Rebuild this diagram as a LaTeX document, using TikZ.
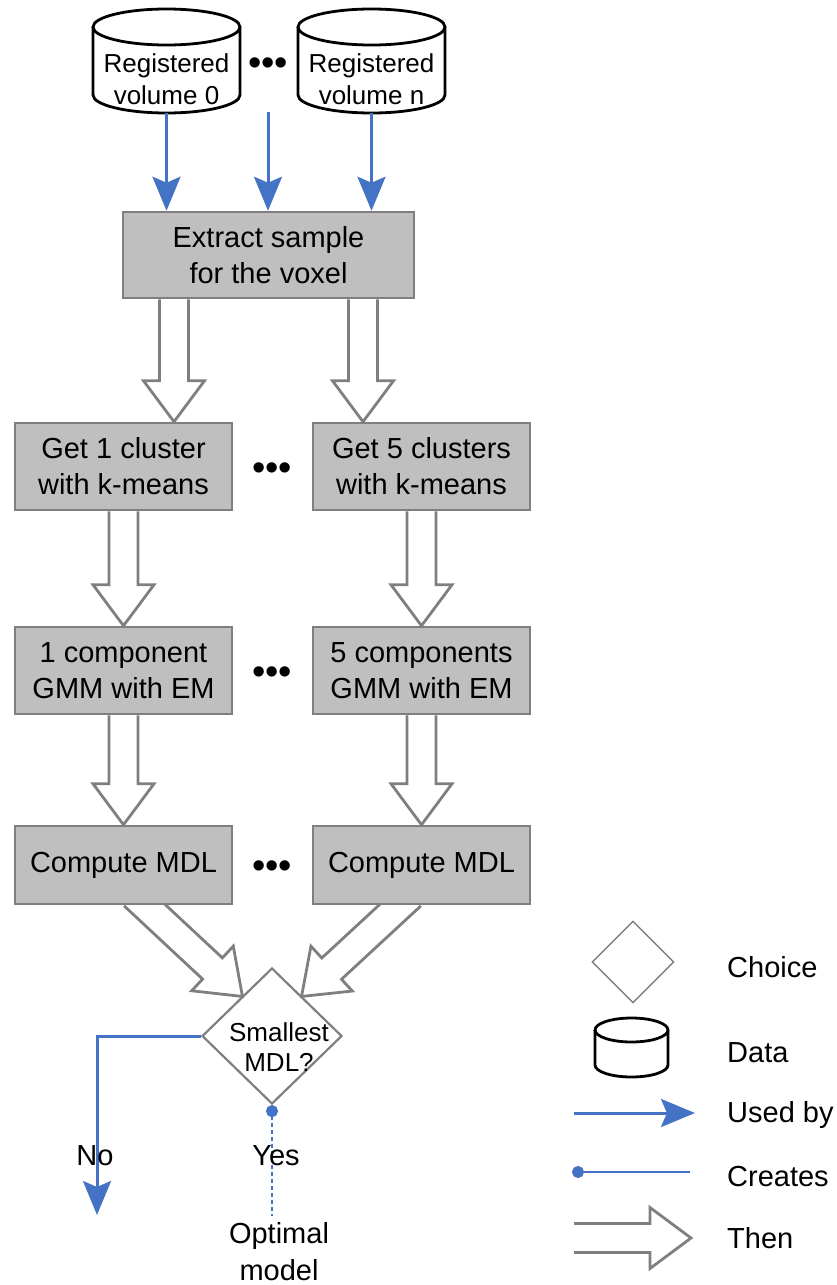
\documentclass[tikz,border=0pt]{standalone}
\usepackage{fontspec}
\setmainfont{Liberation Sans}
\usetikzlibrary{arrows.meta,calc,backgrounds,shapes.geometric}

\definecolor{usedblue}{HTML}{4472C4}
\definecolor{boxfill}{HTML}{BFBFBF}
\definecolor{linegray}{HTML}{7F7F7F}

% hollow "then" arrow from #1 to #2
\newcommand{\thenarrow}[2]{%
  \coordinate (ta) at (#1);
  \coordinate (tb) at (#2);
  \coordinate (th) at ($(tb)!41pt!(ta)$);
  \draw[thenline] ($(ta)!14.5pt!90:(tb)$) -- ($(th)!14.5pt!90:(tb)$)
    -- ($(th)!30.5pt!90:(tb)$) -- (tb) -- ($(th)!30.5pt!-90:(tb)$)
    -- ($(th)!14.5pt!-90:(tb)$) -- ($(ta)!14.5pt!-90:(tb)$);
}

% cylinder outline round node #1 (x radius #2, y radius #3)
\newcommand{\datashape}[3]{%
  \draw[dataline] ([yshift=#3]#1.north) ellipse [x radius=#2, y radius=#3];
  \draw[dataline] ([yshift=#3]#1.north west) -- ([yshift=#3]#1.south west)
    arc[start angle=180, end angle=360, x radius=#2, y radius=#3]
    -- ([yshift=#3]#1.north east);
}

\begin{document}
\begin{tikzpicture}[x=1pt, y=-1pt,
    stepbox/.style={draw=linegray, fill=boxfill, line width=2.5pt, inner sep=0pt,
      minimum width=217pt, minimum height=87pt, align=center,
      font=\fontsize{29}{36}\selectfont},
    database/.style={inner sep=0pt, outer sep=0pt, align=center,
      font=\fontsize{26}{32}\selectfont},
    dataline/.style={draw=black, line width=2.8pt},
    choice/.style={diamond, draw=linegray, line width=2.2pt, inner sep=0pt},
    usedby/.style={draw=usedblue, line width=3pt,
      -{Stealth[length=34pt, width=28pt, inset=6pt]}},
    creates/.style={draw=usedblue, line width=2.6pt, {Circle[length=12pt]}-},
    thenline/.style={draw=linegray, line width=2.8pt, line join=miter},
    etc/.style={font=\fontsize{38}{38}\selectfont, inner sep=0pt},
    lbl/.style={font=\fontsize{29}{37}\selectfont, align=center, inner sep=0pt}
  ]
  \useasboundingbox (0,0) rectangle (837,1285);

  % Data
  \node[database, minimum width=147pt, minimum height=68pt] (vol0) at (166.5,79)
    {Registered\\volume 0};
  \datashape{vol0}{73.5pt}{18pt}
  \node[etc] (voldots) at (268,67) {•••};
  \node[database, minimum width=147pt, minimum height=68pt] (voln) at (371.5,79)
    {Registered\\volume n};
  \datashape{voln}{73.5pt}{18pt}
  \coordinate (volmid) at (268,112);

  % Steps
  \node[stepbox, minimum width=291pt, minimum height=86pt] (extract) at (268.5,255)
    {Extract sample\\for the voxel};
  \node[stepbox] (clu1) at (123.5,466.5) {Get 1 cluster\\with k-means};
  \node[etc] (cludots) at (272,472) {•••};
  \node[stepbox] (clu5) at (421.5,466.5) {Get 5 clusters\\with k-means};
  \node[stepbox] (gmm1) at (123.5,670.5) {1 component\\GMM with EM};
  \node[etc] (gmmdots) at (272,676) {•••};
  \node[stepbox] (gmm5) at (421.5,670.5) {5 components\\GMM with EM};
  \node[stepbox, minimum height=78pt] (mdl1) at (123.5,865) {Compute MDL};
  \node[etc] (mdldots) at (272,870) {•••};
  \node[stepbox, minimum height=78pt] (mdl5) at (421.5,865) {Compute MDL};

  % Choice
  \node[choice, minimum width=140pt, minimum height=136pt] (choice) at (272,1036) {};
  \node[lbl, font=\fontsize{26}{30}\selectfont] (choicetxt)
    at ([xshift=7pt, yshift=-11pt]choice.center) {Smallest\\MDL?};

  % Used by
  \draw[usedby] (vol0.south) -- (vol0.south |- extract.north);
  \draw[usedby] (volmid) -- (volmid |- extract.north);
  \draw[usedby] (voln.south) -- (voln.south |- extract.north);

  % Then
  \begin{scope}[on background layer]
    \thenarrow{$(extract.south)+(-94.5,0)$}{$(clu1.north)+(50.5,0)$}
    \thenarrow{$(extract.south)+(94.5,0)$}{$(clu5.north)+(-58.5,0)$}
    \thenarrow{clu1.south}{gmm1.north}
    \thenarrow{clu5.south}{gmm5.north}
    \thenarrow{gmm1.south}{mdl1.north}
    \thenarrow{gmm5.south}{mdl5.north}
    \thenarrow{$(mdl1.south)+(10.5,-10)$}{$(choice.north west)+(6,-5)$}
    \thenarrow{$(mdl5.south)+(-10.5,-10)$}{$(choice.north east)+(-6,-5)$}
  \end{scope}

  % No / Yes
  \coordinate (notip) at (97,1215);
  \draw[usedby] (choice.west) -| (notip);
  \node[lbl] (no) at (95,1156) {No};
  \node[lbl] (optimal) at (279,1252) {Optimal\\model};
  \path (choice.south |- optimal.north) ++(0,-7) coordinate (yesend);
  \draw[creates, dash pattern=on 4pt off 3pt] (choice.south) -- (yesend);
  \node[lbl] (yes) at (276,1156) {Yes};

  % Legend
  \node[choice, minimum width=82pt, minimum height=82pt, line width=1.4pt]
    (keychoice) at (633,962) {};
  \node[lbl, anchor=west] (keychoicetxt) at (727,967) {Choice};
  \node[database, minimum width=73pt, minimum height=35pt] (keydata)
    at (631.5,1059.5) {};
  \datashape{keydata}{36.5pt}{12pt}
  \node[lbl, anchor=west] (keydatatxt) at (727,1053) {Data};
  \coordinate (keyusedA) at (574,1113);
  \coordinate (keyusedB) at (695,1113);
  \draw[usedby] (keyusedA) -- (keyusedB);
  \node[lbl, anchor=west] (keyusedtxt) at (727,1115) {Used by};
  \coordinate (keycreA) at (572,1172);
  \coordinate (keycreB) at (690,1172);
  \draw[creates] (keycreA) -- (keycreB);
  \node[lbl, anchor=west] (keycretxt) at (727,1177) {Creates};
  \thenarrow{574,1238}{691,1238}
  \node[lbl, anchor=west] (keythentxt) at (727,1238) {Then};
\end{tikzpicture}
\end{document}
